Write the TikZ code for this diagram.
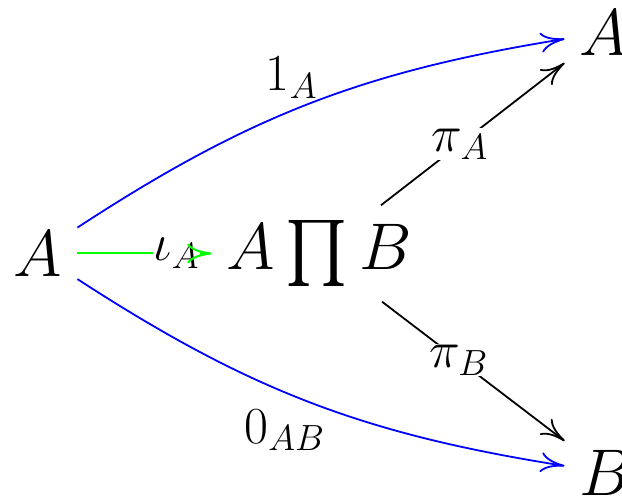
\RequirePackage{fix-cm}
\documentclass[tikz,border=0pt]{standalone}
\DeclareFontFamily{OMX}{cmex}{}
\DeclareFontShape{OMX}{cmex}{m}{n}{<-> cmex10}{}
\usetikzlibrary{arrows.meta}
\definecolor{pgreen}{RGB}{0,255,0}
\tikzset{
  obj/.style={inner sep=15pt, font=\fontsize{66}{79}\selectfont},
  lbl/.style={font=\fontsize{52}{62}\selectfont, inner sep=1pt, text=black},
  arr/.style={line width=1.8pt, -{To[length=24pt,width=20pt]}},
}
\begin{document}
\begin{tikzpicture}[x=1pt,y=1pt]
\useasboundingbox (0,0) rectangle (622,498);
\node[obj] (a) at (38,244.5) {$A$};
\node[obj] (p) at (319,244.5) {$A\prod B$};
\node[obj] (t) at (604,465.5) {$A$};
\node[obj] (b) at (606,25.5) {$B$};
\draw[arr, blue] (a) to[bend left=12] node[lbl, midway, xshift=-18pt, yshift=26pt] {$1_A$} (t);
\draw[arr, blue] (a) to[bend right=12] node[lbl, midway, xshift=-25pt, yshift=-28pt] {$0_{AB}$} (b);
\draw[arr, draw=pgreen, line width=2pt] (a) -- node[lbl, pos=0.74, fill=white] {$\iota_A$} (p);
\draw[arr, draw=pgreen, line width=2pt, shorten <=128pt] (a) -- (p);
\draw[arr] (p) -- node[lbl, pos=0.43, fill=white] {$\pi_A$} (t);
\draw[arr] (p) -- node[lbl, pos=0.42, fill=white] {$\pi_B$} (b);
\end{tikzpicture}
\end{document}
